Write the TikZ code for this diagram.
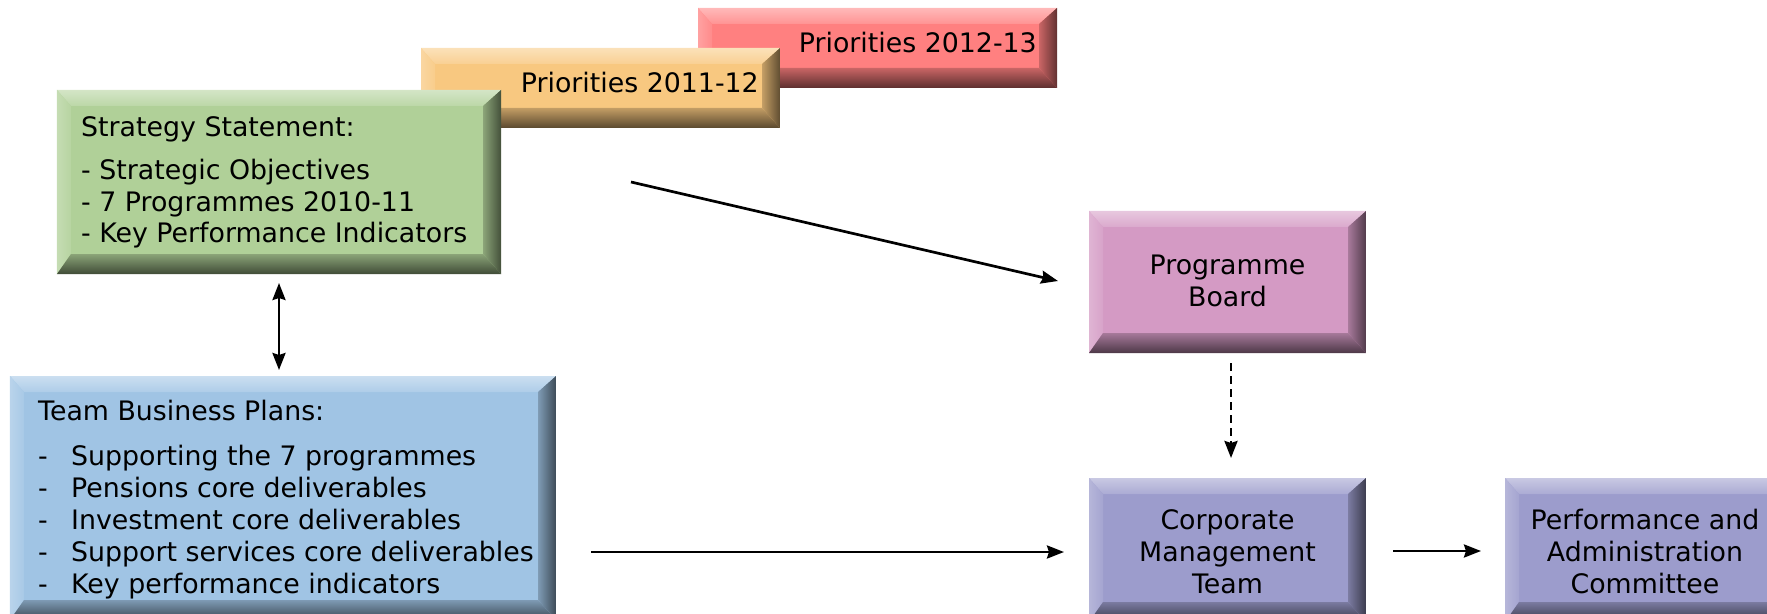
\documentclass[tikz,border=0pt]{standalone}
\usepackage{fontspec}
\setmainfont{DejaVu Sans}
\usetikzlibrary{arrows.meta}

\definecolor{cRed}{HTML}{FF8080}
\definecolor{cOrange}{HTML}{F8C880}
\definecolor{cGreen}{HTML}{B0D098}
\definecolor{cBlue}{HTML}{A0C4E4}
\definecolor{cPink}{HTML}{D49AC4}
\definecolor{cPurple}{HTML}{9C9CCC}

% two-colour linear ramps over the full extent of the shaded path
\colorlet{bevA}{white}
\colorlet{bevB}{black}
\pgfdeclareverticalshading[bevA,bevB]{bevv}{100bp}{color(0bp)=(bevA); color(100bp)=(bevB)}
\pgfdeclarehorizontalshading[bevA,bevB]{bevh}{100bp}{color(0bp)=(bevA); color(100bp)=(bevB)}

\tikzset{
  % flat rectangle with a mitred bevel: light top/left, dark right/bottom
  bevel/.style={rectangle, draw=none, fill=#1, inner sep=0pt, outer sep=0pt,
    path picture={
      \coordinate (bNW) at (path picture bounding box.north west);
      \coordinate (bNE) at (path picture bounding box.north east);
      \coordinate (bSW) at (path picture bounding box.south west);
      \coordinate (bSE) at (path picture bounding box.south east);
      % top rim
      \colorlet{bevA}{#1}\colorlet{bevB}{#1!40!white}
      \shade[shading=bevv] (bNW) -- (bNE) -- ([xshift=-18bp,yshift=-16bp]bNE)
        -- ([xshift=14bp,yshift=-16bp]bNW) -- cycle;
      % left rim
      \colorlet{bevA}{#1!65!white}\colorlet{bevB}{#1}
      \shade[shading=bevh] (bNW) -- ([xshift=14bp,yshift=-16bp]bNW)
        -- ([xshift=14bp,yshift=20bp]bSW) -- (bSW) -- cycle;
      % right rim
      \colorlet{bevA}{#1}\colorlet{bevB}{#1!18!black}
      \shade[shading=bevh] (bNE) -- (bSE) -- ([xshift=-18bp,yshift=20bp]bSE)
        -- ([xshift=-18bp,yshift=-16bp]bNE) -- cycle;
      % bottom rim
      \colorlet{bevA}{#1!15!black}\colorlet{bevB}{#1}
      \shade[shading=bevv] (bSW) -- ([xshift=14bp,yshift=20bp]bSW)
        -- ([xshift=-18bp,yshift=20bp]bSE) -- (bSE) -- cycle;
    }},
  txt/.style={inner sep=0pt, font=\fontsize{26.8bp}{32bp}\selectfont},
  bevtip/.tip={Stealth[length=17bp,width=13bp,inset=2bp]},
  conn/.style={line width=2.7bp, -{bevtip}},
}

\begin{document}
\begin{tikzpicture}[x=1bp, y=-1bp]
\useasboundingbox (0,0) rectangle (1767,614);

% priority boxes, stacked behind the strategy statement
\node[bevel=cRed, minimum width=359bp, minimum height=80bp] (p13) at (877.5,48) {};
\node[txt, anchor=east] (p13t) at (1037,43) {Priorities 2012-13};
\node[bevel=cOrange, minimum width=359bp, minimum height=80bp] (p12) at (600.5,88) {};
\node[txt, anchor=east] (p12t) at (759,83) {Priorities 2011-12};

% strategy statement
\node[bevel=cGreen, minimum width=444bp, minimum height=184bp] (sst) at (279,182) {};
\node[txt, anchor=north west, align=left, font=\fontsize{26.8bp}{31.5bp}\selectfont]
  (sstt) at (81,116.5)
  {Strategy Statement:\\[11.5bp]
   - Strategic Objectives\\
   - 7 Programmes 2010-11\\
   - Key Performance Indicators};

% team business plans
\node[bevel=cBlue, minimum width=546bp, minimum height=244bp] (tbp) at (283,498) {};
\node[txt, anchor=north west, align=left] (tbpt) at (38,399.5)
  {Team Business Plans:\\[13bp]
   \makebox[33bp][l]{-}Supporting the 7 programmes\\
   \makebox[33bp][l]{-}Pensions core deliverables\\
   \makebox[33bp][l]{-}Investment core deliverables\\
   \makebox[33bp][l]{-}Support services core deliverables\\
   \makebox[33bp][l]{-}Key performance indicators};

% governance boxes
\node[bevel=cPink, minimum width=277bp, minimum height=142bp] (pb) at (1227.5,282) {};
\node[txt, align=center] (pbt) at (1227.5,281) {Programme\\Board};
\node[bevel=cPurple, minimum width=277bp, minimum height=144bp] (cmt) at (1227.5,550) {};
\node[txt, align=center] (cmtt) at (1227.5,551.5) {Corporate\\Management\\Team};
\node[bevel=cPurple, minimum width=280bp, minimum height=144bp] (pac) at (1645,550) {};
\node[txt, align=center] (pact) at (1645,551.5) {Performance and\\Administration\\Committee};

% connector end points
\coordinate (a1) at (631,182);
\coordinate (a2) at (1058,281);
\coordinate (b1) at (279,283);
\coordinate (b2) at (279,370);
\coordinate (c1) at (1231,363);
\coordinate (c2) at (1231,458);
\coordinate (d1) at (591,552);
\coordinate (d2) at (1064,552);
\coordinate (e1) at (1393,551);
\coordinate (e2) at (1481,551);

\draw[conn] (a1) -- (a2);
\draw[conn, {bevtip}-{bevtip}] (b1) -- (b2);
\draw[conn, dash pattern=on 8bp off 5bp] (c1) -- (c2);
\draw[conn] (d1) -- (d2);
\draw[conn] (e1) -- (e2);
\end{tikzpicture}
\end{document}
